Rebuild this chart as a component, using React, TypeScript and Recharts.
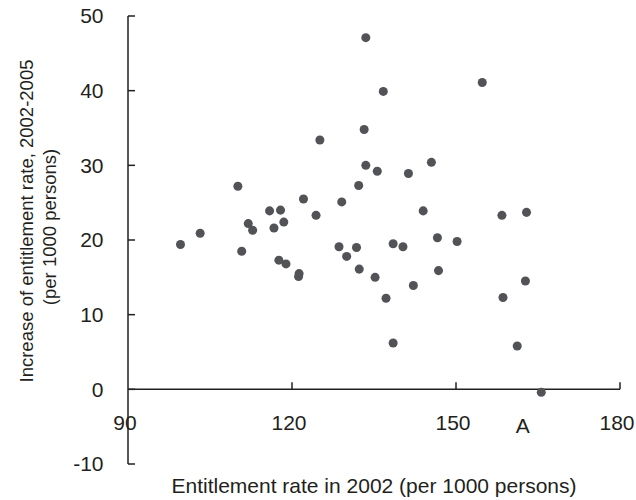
import React from 'react';
import { ScatterChart, Scatter, XAxis, YAxis, ReferenceLine, ReferenceDot } from 'recharts';

// entitlement rate in 2002 vs. increase 2002-2005 (per 1000 persons)
const rate2002 = [
  99.6, 103.2, 110.1, 110.8, 112.0, 112.8, 115.9, 116.7, 117.6, 117.9,
  118.5, 118.9, 121.2, 121.3, 122.1, 124.4, 125.1, 128.6, 129.1, 130.0,
  131.8, 132.2, 132.3, 133.2, 133.5, 133.5, 135.2, 135.6, 136.7, 137.2,
  138.5, 138.5, 140.3, 141.3, 142.2, 144.0, 145.5, 146.6, 146.8, 150.2,
  154.8, 158.4, 158.6, 161.2, 162.7, 162.9, 165.6,
];
const increase = [
  19.4, 20.9, 27.2, 18.5, 22.2, 21.3, 23.9, 21.6, 17.3, 24.0,
  22.4, 16.8, 15.1, 15.5, 25.5, 23.3, 33.4, 19.1, 25.1, 17.8,
  19.0, 27.3, 16.1, 34.8, 30.0, 47.1, 15.0, 29.2, 39.9, 12.2,
  19.5, 6.2, 19.1, 28.9, 13.9, 23.9, 30.4, 20.3, 15.9, 19.8,
  41.1, 23.3, 12.3, 5.8, 14.5, 23.7, -0.4,
];

const xTicks = [90, 120, 150, 180];
const yTicks = [-10, 0, 10, 20, 30, 40, 50];
const markText = 'A';
const markAt = { x: 162.2, y: -4.9 };

const points = rate2002.map((x, i) => ({ x, y: increase[i] }));

const FONT = '"Liberation Sans", Arial, sans-serif';
const INK = '#231f20';

const YTitle = () => (
  <g fontFamily={FONT} fontSize={18.5} fill={INK}>
    <text x={33} y={221} textAnchor="middle" transform="rotate(-90 33 221)">
      Increase of entitlement rate, 2002-2005
    </text>
    <text x={56} y={227} textAnchor="middle" transform="rotate(-90 56 227)">
      (per 1000 persons)
    </text>
  </g>
);

export default function App() {
  return (
    <div style={{ position: 'absolute', left: 0, top: 0, background: '#fff' }}>
      <ScatterChart width={636} height={500} margin={{ top: 16, right: 16, bottom: 0, left: 0 }}>
        <XAxis
          type="number"
          dataKey="x"
          domain={[90, 180]}
          ticks={xTicks}
          interval={0}
          allowDataOverflow
          axisLine={false}
          tickLine={false}
          tickSize={-49}
          tickMargin={0}
          height={36}
          tick={{ fontSize: 21, fill: INK, fontFamily: FONT, dx: -3 }}
          label={{ value: 'Entitlement rate in 2002 (per 1000 persons)', position: 'insideBottom', offset: 7, fontSize: 21, fill: INK, fontFamily: FONT }}
        />
        <YAxis
          type="number"
          dataKey="y"
          domain={[-10, 50]}
          ticks={yTicks}
          interval={0}
          allowDataOverflow
          width={128}
          axisLine={{ stroke: INK, strokeWidth: 1.5 }}
          tickLine={{ stroke: INK, strokeWidth: 1.5 }}
          tickSize={-7}
          tickMargin={31.5}
          tick={{ fontSize: 21, fill: INK, fontFamily: FONT }}
          label={<YTitle />}
        />
        <ReferenceLine y={0} stroke={INK} strokeWidth={1.5} />
        {xTicks.slice(1).map((t) => (
          <ReferenceLine key={t} segment={[{ x: t, y: 0 }, { x: t, y: 0.95 }]} stroke={INK} strokeWidth={1.5} />
        ))}
        <ReferenceDot
          x={markAt.x}
          y={markAt.y}
          r={0}
          fill="none"
          stroke="none"
          label={{ value: markText, position: 'center', fontSize: 21, fill: INK, fontFamily: FONT }}
        />
        <Scatter data={points} fill="#515356" shape="circle" isAnimationActive={false} />
      </ScatterChart>
    </div>
  );
}
